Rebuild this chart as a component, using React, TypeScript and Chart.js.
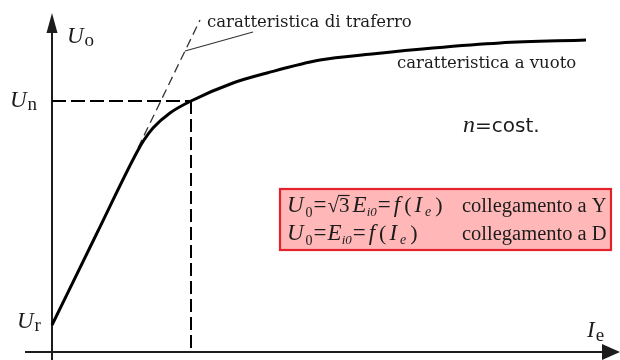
import { useEffect, useRef } from "react";
import { Chart, registerables } from "chart.js";

Chart.register(...registerables);

// No-load characteristic of a synchronous generator (field current vs. terminal voltage, arbitrary units)
const noLoadIe = [0, 45, 85, 92, 101, 118, 139, 181, 215, 268, 320, 381, 448, 534];
const noLoadU = [27, 119, 200, 212, 224, 239, 251, 269, 279, 292, 298, 304, 309, 312];

// Air-gap line (straight continuation of the linear part)
const airGapIe = [86, 148];
const airGapU = [204, 332];

// Rated voltage point on the curve
const ratedIe = 139;
const ratedU = 251;

// Leader from the air-gap line to its label
const leaderIe = [133, 201];
const leaderU = [301, 320];

// Axis extents
const xMin = -27;
const xMax = 568;
const yMin = -8;
const yMax = 340;

type Seg = { t: string; font: string; dy?: number; gap?: number; bar?: boolean };

const SERIF = '"Liberation Serif", "Times New Roman", serif';
const it = (px: number) => `italic ${px}px ${SERIF}`;
const rm = (px: number) => `${px}px ${SERIF}`;

// Rich labels: [x, y (data units, baseline-left), segments]
const richLabels: [number, number, Seg[]][] = [
  [15, 309, [{ t: "U", font: it(23), gap: 1 }, { t: "o", font: rm(19), dy: 3 }]],
  [-42, 245, [{ t: "U", font: it(23), gap: 1 }, { t: "n", font: rm(19), dy: 3 }]],
  [-35, 24, [{ t: "U", font: it(23), gap: 1 }, { t: "r", font: rm(19), dy: 3 }]],
  [535, 15, [{ t: "I", font: it(23), gap: 1 }, { t: "e", font: rm(19), dy: 4 }]],
  [411, 220, [
    { t: "n", font: it(24), gap: 0 },
    { t: "=cost.", font: '20px "DejaVu Sans", sans-serif' },
  ]],
  [235, 140, [
    { t: "U", font: it(23), gap: 2 },
    { t: "0", font: rm(14), dy: 5, gap: 1 },
    { t: "=", font: rm(23), gap: 1 },
    { t: "\u221A", font: rm(21), gap: 0 },
    { t: "3", font: rm(21), gap: 3, bar: true },
    { t: "E", font: it(23), gap: 0 },
    { t: "i0", font: it(13), dy: 4, gap: 1 },
    { t: "=", font: rm(23), gap: 3 },
    { t: "f", font: it(23), gap: 4 },
    { t: "(", font: rm(22), gap: 3 },
    { t: "I", font: it(23), gap: 3 },
    { t: "e", font: it(14), dy: 4, gap: 4 },
    { t: ")", font: rm(22) },
  ]],
  [235, 112, [
    { t: "U", font: it(23), gap: 2 },
    { t: "0", font: rm(14), dy: 5, gap: 1 },
    { t: "=", font: rm(23), gap: 1 },
    { t: "E", font: it(23), gap: 0 },
    { t: "i0", font: it(13), dy: 4, gap: 1 },
    { t: "=", font: rm(23), gap: 3 },
    { t: "f", font: it(23), gap: 4 },
    { t: "(", font: rm(22), gap: 3 },
    { t: "I", font: it(23), gap: 3 },
    { t: "e", font: it(14), dy: 4, gap: 4 },
    { t: ")", font: rm(22) },
  ]],
];

// Plain labels: [x, y, text, font]
const plainLabels: [number, number, string, string][] = [
  [155, 325, "caratteristica di traferro", '16.5px "DejaVu Serif", serif'],
  [345, 284, "caratteristica a vuoto", '16.5px "DejaVu Serif", serif'],
  [410, 140, "collegamento a Y", rm(20.5)],
  [410, 112, "collegamento a D", rm(20.5)],
];

// Legend box corners
const boxX = [228, 559];
const boxY = [163, 102];

const INK = "#1c1c1c";

function drawRich(ctx: CanvasRenderingContext2D, segs: Seg[], x: number, y: number) {
  let cx = x;
  for (const s of segs) {
    ctx.font = s.font;
    ctx.fillText(s.t, cx, y + (s.dy ?? 0));
    const w = ctx.measureText(s.t).width;
    if (s.bar) {
      ctx.save();
      ctx.lineWidth = 1.2;
      ctx.strokeStyle = INK;
      ctx.beginPath();
      ctx.moveTo(cx - 1, y - 16.5);
      ctx.lineTo(cx + w, y - 16.5);
      ctx.stroke();
      ctx.restore();
    }
    cx += w + (s.gap ?? 0);
  }
}

const diagramPlugin = {
  id: "diagram",
  beforeDatasetsDraw(chart: Chart) {
    const { ctx } = chart;
    const xs = chart.scales.x;
    const ys = chart.scales.y;
    const X = (v: number) => xs.getPixelForValue(v);
    const Y = (v: number) => ys.getPixelForValue(v);

    ctx.save();
    // legend box
    const bx = X(boxX[0]);
    const by = Y(boxY[0]);
    const bw = X(boxX[1]) - bx;
    const bh = Y(boxY[1]) - by;
    ctx.fillStyle = "#ffb7b7";
    ctx.fillRect(bx, by, bw, bh);
    ctx.strokeStyle = "#e3232b";
    ctx.lineWidth = 2.2;
    ctx.strokeRect(bx, by, bw, bh);

    // axes
    ctx.strokeStyle = INK;
    ctx.fillStyle = INK;
    ctx.lineWidth = 2;
    ctx.beginPath();
    ctx.moveTo(X(xMin), Y(0));
    ctx.lineTo(X(xMax) - 10, Y(0));
    ctx.moveTo(X(0), Y(yMin));
    ctx.lineTo(X(0), Y(yMax) + 10);
    ctx.stroke();

    // arrow heads
    ctx.beginPath();
    ctx.moveTo(X(0), Y(yMax - 1));
    ctx.lineTo(X(0) - 5.5, Y(yMax - 21));
    ctx.lineTo(X(0) + 5.5, Y(yMax - 21));
    ctx.closePath();
    ctx.fill();
    ctx.beginPath();
    ctx.moveTo(X(xMax), Y(0));
    ctx.lineTo(X(xMax - 18), Y(0) - 8);
    ctx.lineTo(X(xMax - 18), Y(0) + 8);
    ctx.closePath();
    ctx.fill();
    ctx.restore();
  },
  afterDatasetsDraw(chart: Chart) {
    const { ctx } = chart;
    const xs = chart.scales.x;
    const ys = chart.scales.y;
    ctx.save();
    ctx.fillStyle = INK;
    ctx.textBaseline = "alphabetic";
    ctx.textAlign = "left";
    for (const [x, y, text, font] of plainLabels) {
      ctx.font = font;
      ctx.fillText(text, xs.getPixelForValue(x), ys.getPixelForValue(y));
    }
    for (const [x, y, segs] of richLabels) {
      drawRich(ctx, segs, xs.getPixelForValue(x), ys.getPixelForValue(y));
    }
    ctx.restore();
  },
};

export default function App() {
  const ref = useRef<HTMLCanvasElement | null>(null);

  useEffect(() => {
    if (!ref.current) return;
    const pts = (xs: number[], ys: number[]) => xs.map((x, i) => ({ x, y: ys[i] }));
    const chart = new Chart(ref.current, {
      type: "line",
      data: {
        datasets: [
          {
            data: pts(noLoadIe, noLoadU),
            borderColor: "#000",
            borderWidth: 3,
            cubicInterpolationMode: "monotone",
            pointRadius: 0,
          },
          {
            data: pts(airGapIe, airGapU),
            borderColor: "#333",
            borderWidth: 1.3,
            borderDash: [9, 5],
            pointRadius: 0,
          },
          {
            data: [
              { x: 0, y: ratedU },
              { x: ratedIe, y: ratedU },
            ],
            borderColor: "#000",
            borderWidth: 2,
            borderDash: [14, 5],
            pointRadius: 0,
          },
          {
            data: [
              { x: ratedIe, y: ratedU },
              { x: ratedIe, y: 0 },
            ],
            borderColor: "#000",
            borderWidth: 2,
            borderDash: [13, 5],
            pointRadius: 0,
          },
          {
            data: pts(leaderIe, leaderU),
            borderColor: "#333",
            borderWidth: 1.2,
            pointRadius: 0,
          },
        ],
      },
      options: {
        responsive: false,
        animation: false,
        layout: { padding: { left: 25, top: 12, right: 0, bottom: 0 } },
        scales: {
          x: { type: "linear", min: xMin, max: xMax, display: false },
          y: { type: "linear", min: yMin, max: yMax, display: false },
        },
        plugins: {
          legend: { display: false },
          tooltip: { enabled: false },
        },
      },
      plugins: [diagramPlugin],
    });
    return () => chart.destroy();
  }, []);

  return (
    <div style={{ position: "fixed", left: 0, top: 0, width: 620, height: 360, background: "#fff" }}>
      <canvas ref={ref} width={620} height={360} />
    </div>
  );
}
